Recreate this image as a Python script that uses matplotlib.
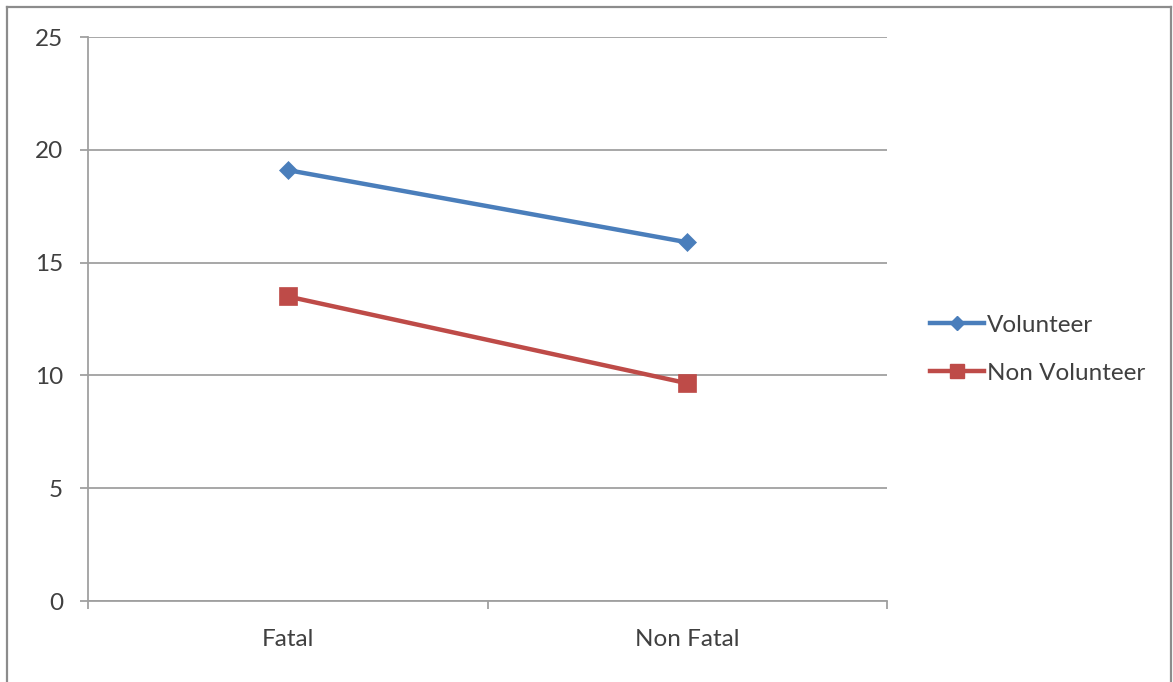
import matplotlib
matplotlib.use("Agg")
import matplotlib.pyplot as plt
from matplotlib.lines import Line2D

categories = ["Fatal", "Non Fatal"]
volunteer = [19.1, 15.9]
non_volunteer = [13.5, 9.65]
y_ticks = [0, 5, 10, 15, 20, 25]

blue = "#4A7EBB"
red = "#BE4B48"
grid_gray = "#A0A0A0"
text_color = "#404040"

plt.rcParams["font.family"] = ["Lato", "DejaVu Sans"]

W, H = 1173, 682
fig = plt.figure(figsize=(W / 100, H / 100), dpi=100)
ax = fig.add_axes([88 / W, 1 - 601 / H, (887 - 88) / W, (601 - 37) / H])

x = [i + 0.5 for i in range(len(categories))]
ax.plot(x, volunteer, color=blue, lw=3.2, marker="D", ms=9.2,
        mec=blue, mew=0.5, solid_capstyle="round", zorder=3)
ax.plot(x, non_volunteer, color=red, lw=3.2, marker="s", ms=13.5,
        mec=red, mew=0.5, solid_capstyle="round", zorder=3)

ax.set_xlim(0, len(categories))
ax.set_ylim(0, 25)
ax.set_yticks(y_ticks)
ax.set_xticks(range(len(categories) + 1))
ax.set_xticklabels([])
ax.set_xticks(x, minor=True)
ax.set_xticklabels(categories, minor=True)

ax.grid(axis="y", color=grid_gray, lw=1.3)
ax.set_axisbelow(True)
for side in ["top", "right"]:
    ax.spines[side].set_visible(False)
for side in ["left", "bottom"]:
    ax.spines[side].set_color(grid_gray)
    ax.spines[side].set_linewidth(1.3)

ax.tick_params(axis="y", which="major", length=6, width=1.3, color=grid_gray,
               labelsize=17.5, labelcolor=text_color, pad=12)
ax.tick_params(axis="x", which="major", length=6, width=1.3, color=grid_gray)
ax.tick_params(axis="x", which="minor", length=0, labelsize=17.5,
               labelcolor=text_color, pad=20)

handles = [
    Line2D([], [], color=blue, lw=3.2, marker="D", ms=7, mec=blue),
    Line2D([], [], color=red, lw=3.2, marker="s", ms=10, mec=red),
]
fig.legend(handles, ["Volunteer", "Non Volunteer"], loc="center left",
           bbox_to_anchor=(0.774, 0.488), frameon=False, fontsize=17.5,
           labelcolor=text_color, handlelength=2.25, handletextpad=0.1,
           labelspacing=1.1)

# outer chart border (left, top, right)
border = [((7, 7), (682, 7)), ((7, 1171), (7, 7)), ((1171, 1171), (7, 682))]
for xs, ys in border:
    fig.add_artist(Line2D([c / W for c in xs], [1 - c / H for c in ys],
                          color="#8C8C8C", lw=1.6, transform=fig.transFigure))

fig.savefig("out.png", dpi=100, facecolor="white")
